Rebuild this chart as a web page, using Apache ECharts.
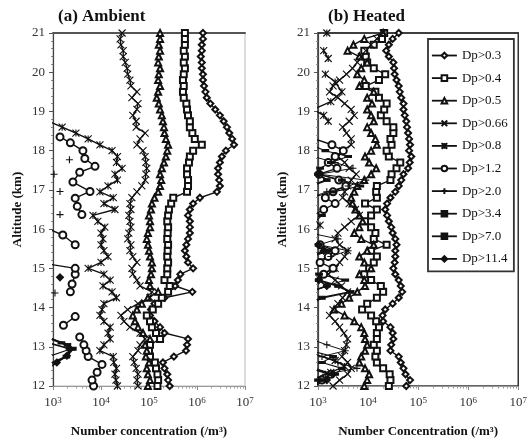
<!DOCTYPE html>
<html>
<head>
<meta charset="utf-8">
<script src="https://cdn.jsdelivr.net/npm/echarts@6/dist/echarts.min.js"></script>
<style>
html, body { margin: 0; padding: 0; background: #fff; }
#chart { width: 530px; height: 443px; }
</style>
</head>
<body>
<div id="chart"></div>
<script>
// altitude grid used by the continuous profiles (km)
var altitude = [12, 12.15, 12.3, 12.45, 12.6, 12.75, 12.9, 13.05, 13.2, 13.35,
    13.5, 13.65, 13.8, 13.95, 14.1, 14.25, 14.4, 14.55, 14.7, 14.85,
    15, 15.15, 15.3, 15.45, 15.6, 15.75, 15.9, 16.05, 16.2, 16.35,
    16.5, 16.65, 16.8, 16.95, 17.1, 17.25, 17.4, 17.55, 17.7, 17.85,
    18, 18.15, 18.3, 18.45, 18.6, 18.75, 18.9, 19.05, 19.2, 19.35,
    19.5, 19.65, 19.8, 19.95, 20.1, 20.25, 20.4, 20.55, 20.7, 20.85, 21];

var sizeNames = ['Dp>0.3', 'Dp>0.4', 'Dp>0.5', 'Dp>0.66', 'Dp>0.8', 'Dp>1.2', 'Dp>2.0', 'Dp>3.4', 'Dp>7.0', 'Dp>11.4'];
var xTickExp = [3, 4, 5, 6, 7];
var yTicks = [12, 21, 1];

// (a) Ambient  - number concentration (/m3)
var a03 = [2.7e5, 2.5e5, 2.4e5, 2.1e5, 1.95e5, 3.3e5, 5.9e5, 6.2e5, 6.5e5, 2.1e5,
    1.7e5, 1.3e5, 1.05e5, 1.1e5, 1.3e5, 2.1e5, 8e5, 3.5e5, 4e5, 4.5e5,
    8.3e5, 6.5e5, 6e5, 5.6e5, 6e5, 6.5e5, 7.1e5, 7.1e5, 7.1e5, 6.5e5,
    7.1e5, 8.3e5, 1.15e6, 2.6e6, 3e6, 2.9e6, 2.75e6, 2.75e6, 3e6, 3.3e6,
    4e6, 5.9e6, 5.4e6, 4.7e6, 4.2e6, 3.6e6, 3e6, 2.4e6, 1.9e6, 1.6e6,
    1.5e6, 1.4e6, 1.33e6, 1.33e6, 1.26e6, 1.26e6, 1.2e6, 1.26e6, 1.26e6, 1.33e6, 1.33e6];
var a04 = [1.5e5, 1.55e5, 1.5e5, 1.4e5, 1.33e5, 1.05e5, 1e5, 1.05e5, 1.7e5, 1.4e5,
    1.15e5, 1.05e5, 9e4, 1.2e5, 1.55e5, 1.85e5, 2.5e5, 2.7e5, 2.1e5, 2.4e5,
    2.4e5, 2.5e5, 2.4e5, 2.45e5, 2.5e5, 2.4e5, 2.45e5, 2.5e5, 2.4e5, 2.5e5,
    2.6e5, 2.9e5, 3.2e5, 6.2e5, 6.5e5, 6.5e5, 6.2e5, 6.2e5, 6.8e5, 7.1e5,
    8.3e5, 1.26e6, 9e5, 8e5, 7.1e5, 7.1e5, 6.5e5, 6.2e5, 6e5, 5.3e5,
    5.1e5, 5.3e5, 5.1e5, 5.3e5, 5.6e5, 5.3e5, 5.6e5, 5.3e5, 5.6e5, 5.6e5, 5.6e5];
var a05 = [9.5e4, 1.05e5, 9.5e4, 9e4, 1e5, 8.6e4, 9e4, 8.3e4, 1.05e5, 7.5e4,
    5.9e4, 5.1e4, 4.6e4, 5.6e4, 7.1e4, 9.5e4, 1.55e5, 1.05e5, 1e5, 1.1e5,
    1.15e5, 1.15e5, 1.05e5, 1e5, 9.5e4, 9e4, 9.5e4, 1.05e5, 1.05e5, 1e5,
    1.1e5, 1.15e5, 1.3e5, 1.55e5, 1.7e5, 1.8e5, 1.7e5, 1.85e5, 2.05e5, 2.25e5,
    2.4e5, 2.5e5, 2.25e5, 2.1e5, 2.05e5, 1.95e5, 1.85e5, 1.7e5, 1.6e5, 1.45e5,
    1.55e5, 1.7e5, 1.55e5, 1.6e5, 1.7e5, 1.55e5, 1.6e5, 1.7e5, 1.6e5, 1.7e5, 1.7e5];
var a066 = [5.9e4, 5.6e4, 5.9e4, 5.4e4, 4.9e4, 4.6e4, 5.9e4, 6.5e4, 8.3e4, 6.5e4,
    4e4, 3e4, 2.6e4, 3.6e4, 5.9e4, 1.05e5, 1.15e5, 6.5e4, 5.6e4, 4.6e4,
    4.4e4, 5.6e4, 4.6e4, 4e4, 4.2e4, 3.6e4, 3.8e4, 4.2e4, 4e4, 3.8e4,
    4.2e4, 4e4, 4.4e4, 5.6e4, 7.1e4, 8.3e4, 8.6e4, 9e4, 8.6e4, 8.3e4,
    7.5e4, 5.6e4, 6.5e4, 8.3e4, 5.4e4, 5.4e4, 4.6e4, 5.6e4, 5.9e4, 4.4e4,
    5.6e4, 4.2e4, 4e4, 3.6e4, 3.5e4, 3.2e4, 2.9e4, 2.9e4, 2.6e4, 2.5e4, 2.75e4];
var a08 = [2.2e4, 2.05e4, 1.95e4, 2.1e4, 1.85e4, 1.8e4, 9.5e3, 1.15e4, 1.55e4, 1.4e4,
    1.55e4, 1.15e4, 9.5e3, 1.05e4, 1.15e4, 2.1e4, 1.7e4, 1.1e4, 1.55e4, 1.15e4,
    5.4e3, 1e4, 1.4e4, 1.15e4, 1e4, 1.1e4, 1e4, 1.2e4, 8.6e3, 6.8e3,
    1.95e4, 1.15e4, 1.8e4, 9.5e3, 1.4e4, 2.2e4, 1.95e4, 2.75e4, 2.1e4, 2.2e4,
    1.7e4, 9.5e3, 5.4e3, 3e3, 1.55e3, 800];
var a12Alt = [12, 12.15, 12.35, 12.55, 12.75, 12.9, 13.05, 13.25, 13.4, 13.55, 13.77, 14.1,
    14.4, 14.6, 14.85, 15, 15.1, 15.3, 15.6, 15.85, 16, 16.2,
    16.37, 16.58, 16.79, 16.96, 17.2, 17.45, 17.6, 17.8, 18, 18.2, 18.35];
var a12 = [7e3, 6.5e3, 8.3e3, 1.05e4, 5.4e3, 4.9e3, 4.4e3, 3.6e3, null, 1.65e3, 2.9e3, null,
    2.3e3, 2.5e3, 2.9e3, 2.9e3, 900, null, 2.9e3, 1.6e3, 800, null,
    4e3, 3.2e3, 2.9e3, 5.9e3, 2.6e3, 3.6e3, 7.5e3, 4.6e3, 4.2e3, 2.3e3, 1.4e3];
var a20Alt = [14.37, 15, 16.37, 16.6, 16.96, 17.2, 17.4, 17.6, 17.77];
var a20 = [1.1e3, null, 1.4e3, null, 1.4e3, null, 1.05e3, null, 2.2e3];
var a34Alt = [12.75, 12.95, 13.1, 13.25];
var a34 = [800, 2.4e3, 1.5e3, 800];
var a70Alt = [12.55, 12.75, 12.95, 13.05, 13.2];
var a70 = [800, 1.9e3, 2.6e3, 2e3, 900];
var a114Alt = [12.45, 12.6, 12.77, 12.95, 13.1, 14, 14.77];
var a114 = [800, 1.2e3, 1.95e3, 2.2e3, 800, null, 1.4e3];

// (b) Heated
var b03 = [5.8e4, 6.9e4, 5.6e4, 5.1e4, 4.5e4, 4.1e4, 2.8e4, 2.9e4, 3.2e4, 3.1e4,
    2.8e4, 2e4, 1.95e4, 2.2e4, 3.1e4, 4.1e4, 4.8e4, 4.5e4, 4.1e4, 3.5e4,
    3.2e4, 3.4e4, 3.5e4, 3.5e4, 3.7e4, 3.5e4, 3.1e4, 2.9e4, 2.6e4, 2.4e4,
    2.2e4, 2.4e4, 2.8e4, 3.5e4, 4.1e4, 4.6e4, 5.1e4, 6.3e4, 6.8e4, 7.3e4,
    6.6e4, 6.9e4, 6.6e4, 6.3e4, 6e4, 5.8e4, 5.4e4, 5.1e4, 5.1e4, 4.6e4,
    4.3e4, 4.1e4, 3.7e4, 3.4e4, 3.3e4, 3.2e4, 2.6e4, 2.3e4, 2.6e4, 3.1e4, 4.1e4];
var b04 = [2.6e4, 2.8e4, 2.7e4, 2e4, 1.5e4, 1.4e4, 1.5e4, 1.3e4, 1.5e4, 1.5e4,
    1.65e4, 1.45e4, 1.15e4, 7.6e3, 9.6e3, 1.5e4, 2e4, 1.8e4, 1.15e4, 8.4e3,
    1.05e4, 1.3e4, 1.5e4, 1.15e4, 2.35e4, 1.3e4, 1.4e4, 1.15e4, 8.7e3, 1.15e4,
    1.5e4, 8.7e3, 1.5e4, 1.45e4, 1.5e4, 2.8e4, 2.95e4, 3.7e4, 4.4e4, 2.6e4,
    2.35e4, 2.95e4, 2.8e4, 3.2e4, 3.2e4, 2.35e4, 1.8e4, 2.1e4, 2.35e4, 1.65e4,
    1.4e4, 9e3, 1.65e4, 2.2e4, 1.3e4, 9.6e3, 9e3, 8.4e3, 1.3e4, 1.9e4, 2.1e4];
var b05 = [8.4e3, 9.6e3, 1.05e4, 8.7e3, 6.7e3, 7.3e3, 8.7e3, 9.6e3, 8.7e3, 8.4e3,
    7.3e3, 5.3e3, 3.4e3, 2.1e3, 2.95e3, 4.2e3, 6.1e3, 8.7e3, 8.4e3, 6.7e3,
    1.15e4, 8.4e3, 6.7e3, 9.6e3, 1.3e4, 7.3e3, 5.3e3, 6.7e3, 7.8e3, 6.7e3,
    5.6e3, 4.9e3, 4.6e3, 5.3e3, 6.1e3, 8.4e3, 1.15e4, 1.45e4, 1.05e4, 8.7e3,
    1.15e4, 1.5e4, 1.4e4, 1.15e4, 9.6e3, 1.3e4, 1.15e4, 9.6e3, 1.2e4, 9.6e3,
    1.3e4, 6.7e3, 8.4e3, 6.1e3, 7.3e3, 9.6e3, 6.7e3, 3.9e3, 5.1e3, 8.4e3, 2e4];
var b066 = [2e3, 2.7e3, 3.9e3, 4.6e3, 3.9e3, 3e3, 3.4e3, 3.7e3, 3.9e3, 3.3e3,
    2.7e3, 2.2e3, 1.7e3, 2e3, 2.5e3, 3.1e3, 3.9e3, 2.95e3, 2.2e3, 1.6e3,
    2.2e3, 2.7e3, 3.4e3, 3.9e3, 2.7e3, 2.2e3, 2.5e3, 3.4e3, 4.6e3, 6.7e3,
    5.6e3, 4.2e3, 3.1e3, 3.4e3, 3.9e3, 4.6e3, 5.8e3, 4.2e3, 3.4e3, 2.5e3,
    3.1e3, 4.6e3, 4.6e3, 3.7e3, 3.1e3, 4.2e3, 5.3e3, 4.6e3, 3.4e3, 2.5e3,
    1.7e3, 2e3, 2.7e3, 3.7e3, 4.9e3, 6.1e3, 7.3e3, 9e3, 1.15e4, 1.5e4, 2e4];
var b08Alt = [12.2, 12.35, 12.5, 12.65, 12.8, 13, 14.6, 14.8, 15, 15.5, 16.1, 16.25, 17,
    18.75, 18.9, 19.05, 19.25, 19.5, 19.75, 19.95, 20.2, 20.35, 20.55, 20.8, 21];
var b08 = [900, 1.8e3, 3.4e3, 2.2e3, 900, null, 900, 1.05e3, 2e3, null, 1.1e3, 800, null,
    1.6e3, 1.3e3, 800, 1.8e3, 3e3, 2.2e3, 1.4e3, null, 1.6e3, 1.3e3, null, 1.5e3];
var b12Alt = [12, 12.15, 12.3, 12.45, 12.6, 14.7, 14.85, 15, 15.15, 15.3, 15.45, 15.6, 15.75, 16,
    16.35, 16.5, 16.65, 16.8, 16.95, 17.1, 17.25, 17.4, 17.55, 17.7, 17.85, 18, 18.15, 18.3];
var b12 = [900, 1.2e3, 1.8e3, 800, null, 800, 1.3e3, 2e3, 1.1e3, 1.6e3, 2.2e3, 1.1e3, 800, null,
    800, 1.3e3, 2.2e3, 1.4e3, 2e3, 3.6e3, 2.6e3, 1.05e3, 2.4e3, 1.6e3, 2.2e3, 3.2e3, 1.9e3, 850];
var b20Alt = [12.15, 12.3, 12.45, 12.6, 12.75, 12.9, 13.05, 13.2, 13.3, 15.15, 15.3, 15.45, 15.6, 15.75, 15.9, 16,
    16.8, 16.95, 17.1, 17.25, 17.4, 17.55, 17.7, 17.85];
var b20 = [700, 1.4e3, 6e3, 2.5e3, 1.2e3, 3.5e3, 1.5e3, 700, null, 700, 1.8e3, 4e3, 1.05e3, 2.5e3, 700, null,
    700, 1.5e3, 4e3, 9e3, 1.05e3, 5e3, 2.2e3, 800];
var b34Alt = [12, 12.15, 12.3, 12.45, 12.6, 12.75, 12.9, 13, 14.4, 14.55, 14.7, 14.85, 15, 15.5,
    16.2, 16.35, 16.5, 16.6, 16.8, 16.95, 17.1, 17.25, 17.4, 17.55, 17.7, 17.85, 18, 18.15];
var b34 = [700, 1e3, 2.2e3, 3e3, 1.2e3, 2e3, 700, null, 700, 1.5e3, 3.5e3, 1.05e3, 700, null,
    900, 1.2e3, 700, null, 700, 2e3, 7e3, 3e3, 1e3, 1.1e3, 1.8e3, 4e3, 1.4e3, 700];
var b70Alt = [12, 12.15, 12.3, 12.45, 13, 14.1, 14.25, 14.4, 14.55, 14.7, 14.85, 15,
    15.3, 15.45, 15.6, 15.75, 16, 17.1, 17.25, 17.4, 17.55];
var b70 = [700, 1.2e3, 1.8e3, 700, null, 700, 1.2e3, 4.5e3, 2.5e3, 1.03e3, 700, null,
    700, 1.6e3, 1.02e3, 700, null, 700, 1.5e3, 1.02e3, 700];
var b114Alt = [12, 12.15, 12.3, 12.45, 13, 14.4, 14.55, 14.7, 14.85, 15,
    15.3, 15.45, 15.6, 15.75, 16, 17.25, 17.4, 17.55];
var b114 = [800, 1.5e3, 2e3, 800, null, 700, 1.5e3, 1.04e3, 700, null,
    700, 1.3e3, 1.03e3, 700, null, 700, 1.02e3, 700];

var FONT = 'Liberation Serif';
var INK = '#111';

// marker + line look per size class
var looks = {
    'Dp>0.3': { symbol: 'emptyDiamond', size: 6, width: 1.4 },
    'Dp>0.4': { symbol: 'emptyRect', size: 6, width: 1.4 },
    'Dp>0.5': { symbol: 'emptyTriangle', size: 6, width: 1.4 },
    'Dp>0.66': { symbol: 'path://M0,0L10,10M10,0L0,10', size: 7, width: 1.4 },
    'Dp>0.8': { symbol: 'path://M0,0L10,10M10,0L0,10M5,0L5,10', size: 7, width: 1.4 },
    'Dp>1.2': { symbol: 'emptyCircle', size: 7, width: 1.4 },
    'Dp>2.0': { symbol: 'path://M0,5L10,5M5,0L5,10', size: 7, width: 1 },
    'Dp>3.4': { symbol: 'rect', size: [5, 2], width: 1.1 },
    'Dp>7.0': { symbol: 'rect', size: [6, 3], width: 2 },
    'Dp>11.4': { symbol: 'diamond', size: 7, width: 1.7 }
};

function pairs(alts, vals) {
    return vals.map(function (v, i) {
        return v == null ? ['-', alts[i]] : [v, alts[i]];
    });
}

function makeSeries(name, panel, alts, vals) {
    var lk = looks[name];
    return {
        name: name,
        type: 'line',
        xAxisIndex: panel === 'a' ? 0 : 3,
        yAxisIndex: panel === 'a' ? 0 : 1,
        data: pairs(alts, vals),
        symbol: lk.symbol,
        symbolSize: lk.size,
        showSymbol: true,
        clip: true,
        lineStyle: { color: INK, width: lk.width },
        itemStyle: { color: INK, borderColor: INK, borderWidth: 1.1 }
    };
}

var minorTicks = [];
xTickExp.slice(0, -1).forEach(function (e) {
    [2, 3, 4, 5, 6, 7, 8, 9].forEach(function (m) { minorTicks.push(m * Math.pow(10, e)); });
});

function bottomAxis(grid, name) {
    return {
        gridIndex: grid, type: 'log', logBase: 10,
        min: Math.pow(10, xTickExp[0]), max: Math.pow(10, xTickExp[xTickExp.length - 1]),
        axisLine: { lineStyle: { color: '#999', width: 1 } },
        axisTick: { length: 4, lineStyle: { color: '#888' } },
        splitLine: { show: false },
        axisLabel: {
            margin: 10,
            formatter: function (v) { return '{b|10}{s|' + Math.round(Math.log10(v)) + '}'; },
            rich: {
                b: { fontFamily: FONT, fontSize: 13, color: '#333' },
                s: { fontFamily: FONT, fontSize: 9, color: '#333', verticalAlign: 'top' }
            }
        },
        name: name, nameLocation: 'middle', nameGap: 39,
        nameTextStyle: { fontFamily: FONT, fontSize: 13, fontWeight: 'bold', color: '#111' }
    };
}
function topAxis(grid, color, width) {
    return {
        gridIndex: grid, type: 'log', logBase: 10, position: 'top',
        min: Math.pow(10, xTickExp[0]), max: Math.pow(10, xTickExp[xTickExp.length - 1]),
        axisLine: { lineStyle: { color: color, width: width } },
        axisTick: { show: false }, axisLabel: { show: false }, splitLine: { show: false }
    };
}
function minorAxis(grid) {
    return {
        gridIndex: grid, type: 'log', logBase: 10, position: 'bottom',
        min: Math.pow(10, xTickExp[0]), max: Math.pow(10, xTickExp[xTickExp.length - 1]),
        axisLine: { show: false }, axisLabel: { show: false }, splitLine: { show: false },
        axisTick: { show: true, customValues: minorTicks, length: 2.5, lineStyle: { color: '#999' } }
    };
}
function altAxis(grid) {
    return {
        gridIndex: grid, type: 'value', min: yTicks[0], max: yTicks[1], interval: yTicks[2],
        axisLine: { show: true, lineStyle: { color: '#444', width: 1.2 } },
        axisTick: { show: true, length: 4, lineStyle: { color: '#555' } },
        minorTick: { show: true, splitNumber: 5, length: 2, lineStyle: { color: '#888' } },
        splitLine: { show: false },
        axisLabel: { fontFamily: FONT, fontSize: 13, color: '#333', margin: 8 },
        name: 'Altitude (km)', nameLocation: 'middle', nameGap: 29,
        nameTextStyle: { fontFamily: FONT, fontSize: 13, fontWeight: 'bold', color: '#111' }
    };
}

var series = [
    makeSeries('Dp>0.3', 'a', altitude, a03),
    makeSeries('Dp>0.4', 'a', altitude, a04),
    makeSeries('Dp>0.5', 'a', altitude, a05),
    makeSeries('Dp>0.66', 'a', altitude, a066),
    makeSeries('Dp>0.8', 'a', altitude, a08),
    makeSeries('Dp>1.2', 'a', a12Alt, a12),
    makeSeries('Dp>2.0', 'a', a20Alt, a20),
    makeSeries('Dp>3.4', 'a', a34Alt, a34),
    makeSeries('Dp>7.0', 'a', a70Alt, a70),
    makeSeries('Dp>11.4', 'a', a114Alt, a114),
    makeSeries('Dp>0.3', 'b', altitude, b03),
    makeSeries('Dp>0.4', 'b', altitude, b04),
    makeSeries('Dp>0.5', 'b', altitude, b05),
    makeSeries('Dp>0.66', 'b', altitude, b066),
    makeSeries('Dp>0.8', 'b', b08Alt, b08),
    makeSeries('Dp>1.2', 'b', b12Alt, b12),
    makeSeries('Dp>2.0', 'b', b20Alt, b20),
    makeSeries('Dp>3.4', 'b', b34Alt, b34),
    makeSeries('Dp>7.0', 'b', b70Alt, b70),
    makeSeries('Dp>11.4', 'b', b114Alt, b114)
];

var option = {
    animation: false,
    backgroundColor: '#fff',
    title: [
        { text: '(a) Ambient', left: 58, top: 8, padding: 0,
          textStyle: { fontFamily: FONT, fontSize: 17, fontWeight: 'bold', color: '#111' } },
        { text: '(b) Heated', left: 328, top: 8, padding: 0,
          textStyle: { fontFamily: FONT, fontSize: 17, fontWeight: 'bold', color: '#111' } }
    ],
    grid: [
        { left: 53, top: 33, width: 192, height: 353, show: true, borderColor: '#bbb', borderWidth: 1 },
        { left: 318, top: 33, width: 204, height: 353, show: true, borderColor: '#333', borderWidth: 1.5 }
    ],
    xAxis: [
        bottomAxis(0, 'Number concentration (/m³)'),
        topAxis(0, '#555', 2),
        minorAxis(0),
        bottomAxis(1, 'Number Concentration (/m³)'),
        topAxis(1, '#333', 1.5),
        minorAxis(1)
    ],
    yAxis: [altAxis(0), altAxis(1)],
    legend: {
        data: sizeNames,
        orient: 'vertical',
        left: 428, top: 39,
        itemWidth: 25, itemHeight: 7, itemGap: 9.6,
        padding: [10, 6, 6, 3],
        backgroundColor: '#fff',
        borderColor: '#333', borderWidth: 1.8,
        selectedMode: false,
        lineStyle: { width: 1.8 },
        textStyle: { fontFamily: FONT, fontSize: 13, color: INK }
    },
    series: series
};

var chart = echarts.init(document.getElementById('chart'));
chart.setOption(option);
</script>
</body>
</html>
